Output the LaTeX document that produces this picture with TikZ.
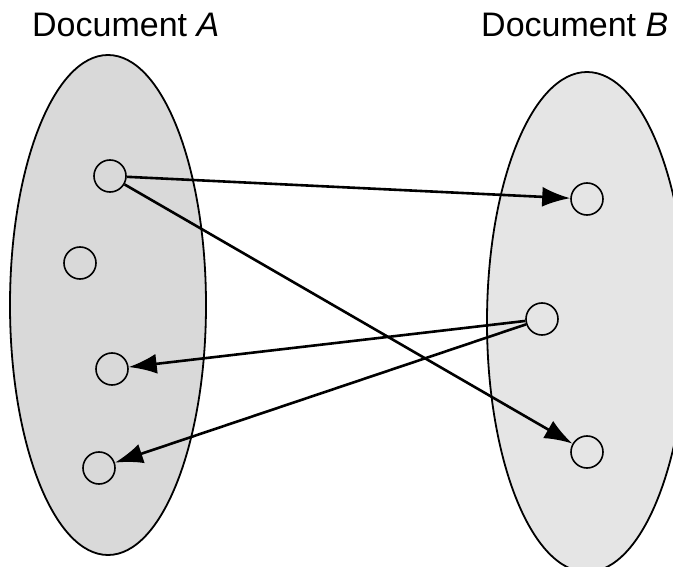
\documentclass[tikz,border=0pt]{standalone}
\usepackage{fontspec}
\setmainfont{Liberation Sans}
\usetikzlibrary{arrows.meta}
\tikzset{
  doc/.style={draw=black, line width=1.8pt},
  term/.style={circle, draw=black, line width=1.6pt, minimum size=32pt, inner sep=0pt},
  link/.style={line width=2.6pt, -{Latex[length=28pt,width=20pt]}},
  title/.style={anchor=base west, inner sep=0pt, font=\fontsize{34}{40}\selectfont}
}
\begin{document}
\begin{tikzpicture}[x=1pt,y=-1pt]
\useasboundingbox (0,0) rectangle (673,567);
\clip (0,0) rectangle (673,567);
\fill[white] (0,0) rectangle (673,567);
\draw[doc, fill=gray!30] (108,305) ellipse [x radius=98, y radius=250];
\draw[doc, fill=gray!20] (587,322) ellipse [x radius=100, y radius=250];
\node[title] (ta) at (32,37) {Document \textit{A}};
\node[title] (tb) at (481,37) {Document \textit{B}};
\node[term] (a1) at (110,176) {};
\node[term] (a2) at (80,263) {};
\node[term] (a3) at (112,369) {};
\node[term] (a4) at (99,468) {};
\node[term] (b1) at (587,199) {};
\node[term] (b2) at (542,319) {};
\node[term] (b3) at (587,452) {};
\draw[link] (a1) -- (b1);
\draw[link] (a1) -- (b3);
\draw[link] (b2) -- (a3);
\draw[link] (b2) -- (a4);
\end{tikzpicture}
\end{document}
